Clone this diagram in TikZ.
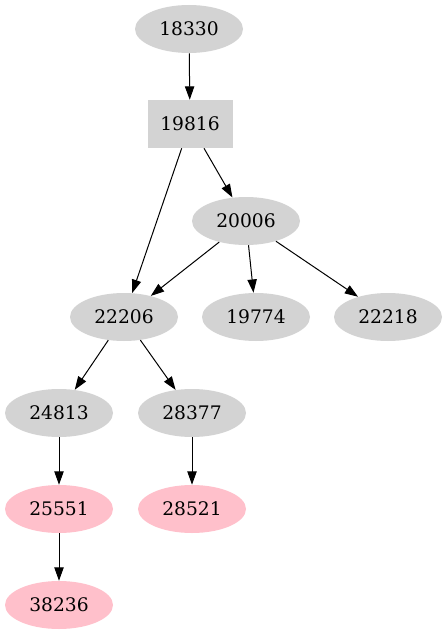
\documentclass[tikz,border=0pt]{standalone}
\usepackage{fontspec}
\setmainfont{DejaVu Serif}
\usetikzlibrary{shapes.geometric,arrows.meta}
\definecolor{ggray}{HTML}{D3D3D3}
\definecolor{gpink}{HTML}{FFC0CB}
\tikzset{
  gnode/.style={ellipse, fill=ggray, draw=none, minimum width=81pt, minimum height=36pt, inner sep=0pt, font=\fontsize{14}{16}\selectfont},
  pnode/.style={gnode, fill=gpink},
  bnode/.style={rectangle, fill=ggray, draw=none, minimum width=63.75pt, minimum height=36pt, inner sep=0pt, font=\fontsize{14}{16}\selectfont},
  edge/.style={-{Triangle[length=10pt,width=7pt]}, line width=0.75pt, black}
}
\begin{document}
\begin{tikzpicture}[x=0.75pt,y=-0.75pt]
\useasboundingbox (0,0) rectangle (447,635);
\node[gnode] (n18330) at (189,29) {18330};
\node[bnode] (n19816) at (190,124) {19816};
\node[gnode] (n20006) at (246,221) {20006};
\node[gnode] (n22206) at (124,317) {22206};
\node[gnode] (n19774) at (256,317) {19774};
\node[gnode] (n22218) at (388,317) {22218};
\node[gnode] (n24813) at (59,413) {24813};
\node[gnode] (n28377) at (192,413) {28377};
\node[pnode] (n25551) at (59,509) {25551};
\node[pnode] (n28521) at (192,509) {28521};
\node[pnode] (n38236) at (59,605) {38236};
\draw[edge] (n18330) -- (n19816);
\draw[edge] (n19816) -- (n20006);
\draw[edge] (n19816) -- (n22206);
\draw[edge] (n20006) -- (n22206);
\draw[edge] (n20006) -- (n19774);
\draw[edge] (n20006) -- (n22218);
\draw[edge] (n22206) -- (n24813);
\draw[edge] (n22206) -- (n28377);
\draw[edge] (n24813) -- (n25551);
\draw[edge] (n28377) -- (n28521);
\draw[edge] (n25551) -- (n38236);
\end{tikzpicture}
\end{document}
